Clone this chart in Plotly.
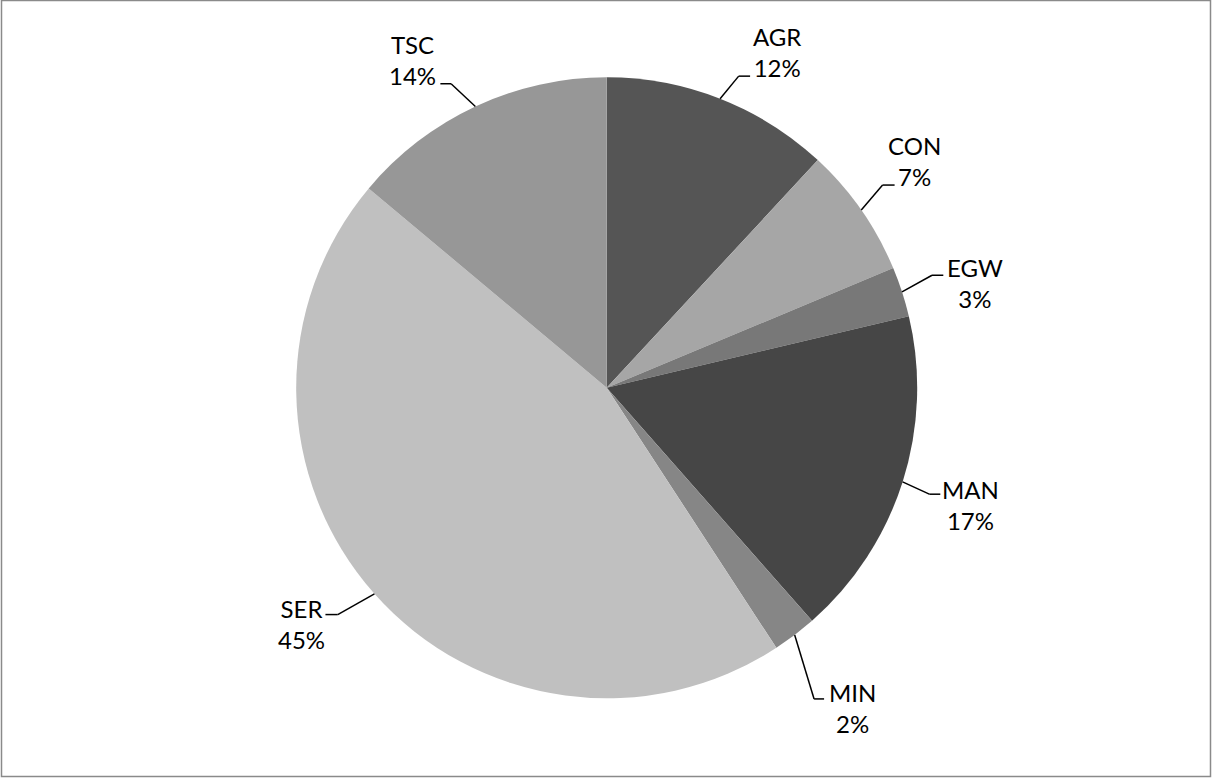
import math
import plotly.graph_objects as go

# Employment share by sector (%)
sectors = ["AGR", "CON", "EGW", "MAN", "MIN", "SER", "TSC"]
shares = [11.9, 6.8, 2.6, 17.2, 2.3, 45.3, 13.9]
slice_colors = ["#555555", "#a6a6a6", "#787878", "#464646", "#868686", "#c0c0c0", "#979797"]

W, H = 1212, 778
CX, CY, R = 606.7, 387.8, 310.5   # pie centre and radius in pixels

# Per-label leader geometry (pixels): elbow offset from the slice edge,
# horizontal run after the elbow, and text-centre offset from the run's end.
label_layout = {
    "AGR": ((18.6, -22.6), 11.4, (26.8, -23.7)),
    "CON": ((21.3, -25.0), 12.0, (19.5, -23.6)),
    "EGW": ((30.0, -16.6), 11.3, (31.5, 7.8)),
    "MAN": ((26.7, 12.3), 11.0, (30.5, 11.2)),
    "MIN": ((19.4, 64.0), 10.0, (28.3, 9.0)),
    "SER": ((-36.7, 20.7), -12.3, (-24.0, 9.3)),
    "TSC": ((-24.3, -22.7), -10.7, (-28.0, -23.7)),
}


def px(x, y):
    return x / W, 1 - y / H


fig = go.Figure(go.Pie(
    labels=sectors,
    values=shares,
    sort=False,
    direction="clockwise",
    rotation=0,
    marker=dict(colors=slice_colors, line=dict(width=0)),
    textinfo="none",
    hoverinfo="label+percent",
    showlegend=False,
    domain=dict(x=[(CX - R) / W, (CX + R) / W],
                y=[1 - (CY + R) / H, 1 - (CY - R) / H]),
))

total = sum(shares)
cum = 0.0
shapes = []
annotations = []
for name, val in zip(sectors, shares):
    mid = (cum + val / 2) / total * 2 * math.pi
    cum += val
    sx, sy = CX + R * math.sin(mid), CY - R * math.cos(mid)
    (ex, ey), run, (tx, ty) = label_layout[name]
    bx, by = sx + ex, sy + ey
    fx, fy = bx + run, by
    for (x0, y0), (x1, y1) in (((sx, sy), (bx, by)), ((bx, by), (fx, fy))):
        p0, p1 = px(x0, y0), px(x1, y1)
        shapes.append(dict(type="line", xref="paper", yref="paper",
                           x0=p0[0], y0=p0[1], x1=p1[0], y1=p1[1],
                           line=dict(color="black", width=1.5)))
    ax, ay = px(fx + tx, fy + ty)
    pct = round(val / total * 100)
    annotations.append(dict(
        x=ax, y=ay, xref="paper", yref="paper",
        text=f"{name}<br>{pct}%", showarrow=False,
        xanchor="center", yanchor="middle", align="center",
        font=dict(family="Lato, 'Open Sans', sans-serif", size=24, color="black"),
    ))

# chart-area frame
shapes.append(dict(type="rect", xref="paper", yref="paper",
                   x0=1.5 / W, x1=1 - 1.5 / W, y0=1.5 / H, y1=1 - 0.5 / H,
                   line=dict(color="#8a8a8a", width=1.5)))

fig.update_layout(
    width=W, height=H,
    margin=dict(l=0, r=0, t=0, b=0),
    paper_bgcolor="white",
    plot_bgcolor="white",
    shapes=shapes,
    annotations=annotations,
)

fig.write_html("out.html")
